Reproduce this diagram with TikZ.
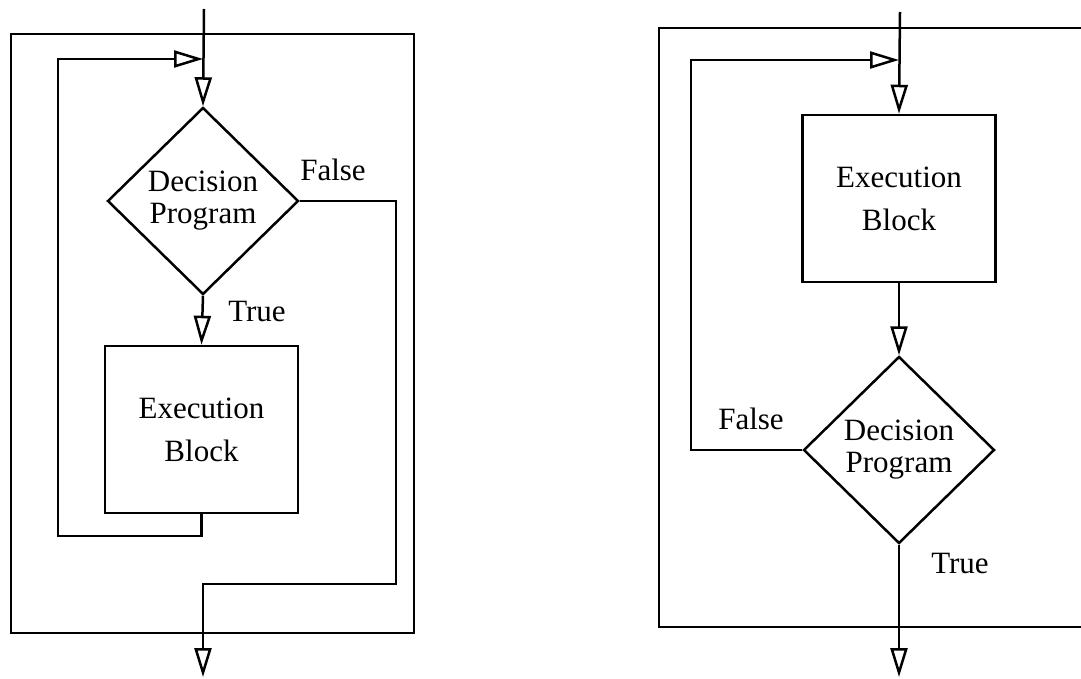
\documentclass[tikz,border=0pt]{standalone}
\usepackage{fontspec}
\setmainfont{Liberation Serif}
\usetikzlibrary{arrows.meta,shapes.geometric}
\begin{document}
\begin{tikzpicture}[x=1pt,y=-1pt,
  ln/.style={line width=2.5pt},
  arr/.style={ln,-{Triangle[open,length=29pt,width=17pt]}},
  diam/.style={diamond,draw,ln,inner sep=0pt,minimum width=191pt,minimum height=187pt,aspect=1.02,align=center,font=\fontsize{31}{32}\selectfont},
  blk/.style={rectangle,draw,ln,inner sep=0pt,minimum width=193pt,minimum height=167pt,align=center,font=\fontsize{31}{43}\selectfont},
  lbl/.style={font=\fontsize{31}{32}\selectfont,inner sep=0pt}]
\useasboundingbox (0,0) rectangle (1081,679);
\fill[white] (0,0) rectangle (1081,679);
% left diagram
\draw[ln] (11,34) rectangle (414,633);
\node[diam] (d1) at (203,201) {Decision\\Program};
\node[blk] (b1) at (201.5,429.5) {Execution\\Block};
\coordinate (t1) at (204,9);
\coordinate (j1) at (203,59);
\coordinate (l1) at (58,536);
\coordinate (r1) at (396,584);
\coordinate (e1) at (203,677);
\draw[arr] (t1) -- (d1.north);
\draw[arr] (d1.south) -- (b1.north);
\draw[arr] (b1.south) |- (l1) |- (j1);
\draw[arr] (d1.east) -| (r1) -| (e1);
\node[lbl] (f1) at (333,170) {False};
\node[lbl] (tr1) at (257,312) {True};
% right diagram
\draw[ln] (1081,28) -- (659,28) -- (659,627) -- (1081,627);
\node[blk] (b2) at (899,198.5) {Execution\\Block};
\node[diam] (d2) at (899,450) {Decision\\Program};
\coordinate (t2) at (900,12);
\coordinate (l2) at (691,60);
\coordinate (j2) at (899,60);
\coordinate (e2) at (899,677);
\draw[arr] (t2) -- (b2.north);
\draw[arr] (b2.south) -- (d2.north);
\draw[arr] (d2.west) -| (l2) -- (j2);
\draw[arr] (d2.south) -- (e2);
\node[lbl] (f2) at (751,419) {False};
\node[lbl] (tr2) at (960,563) {True};
\end{tikzpicture}
\end{document}
